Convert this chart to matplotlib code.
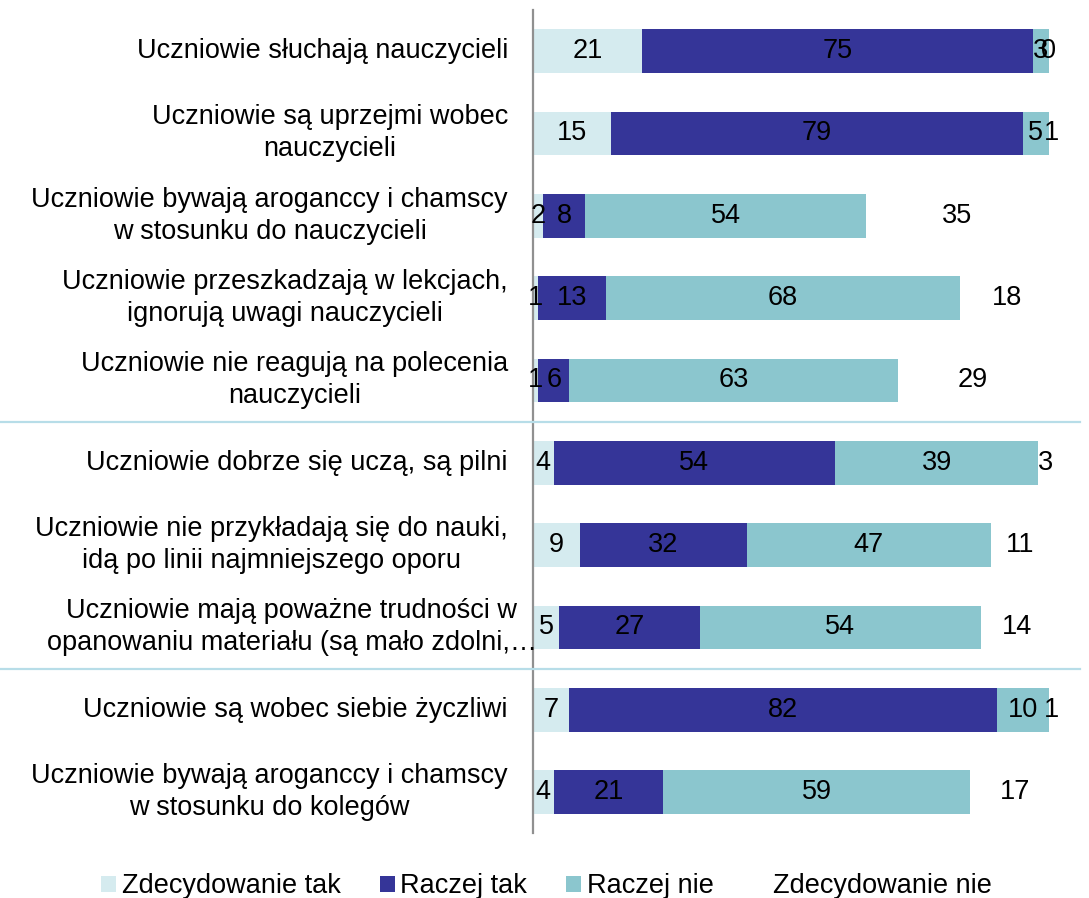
import numpy as np
import matplotlib.pyplot as plt
import matplotlib.transforms as mtransforms
from matplotlib.lines import Line2D

plt.rcParams['font.family'] = ['Liberation Sans', 'DejaVu Sans']

categories = [
    "Uczniowie słuchają nauczycieli",
    "Uczniowie są uprzejmi wobec\nnauczycieli",
    "Uczniowie bywają aroganccy i chamscy\nw stosunku do nauczycieli",
    "Uczniowie przeszkadzają w lekcjach,\nignorują uwagi nauczycieli",
    "Uczniowie nie reagują na polecenia\nnauczycieli",
    "Uczniowie dobrze się uczą, są pilni",
    "Uczniowie nie przykładają się do nauki,\nidą po linii najmniejszego oporu",
    "Uczniowie mają poważne trudności w\nopanowaniu materiału (są mało zdolni,…",
    "Uczniowie są wobec siebie życzliwi",
    "Uczniowie bywają aroganccy i chamscy\nw stosunku do kolegów",
]
series_names = ["Zdecydowanie tak", "Raczej tak", "Raczej nie", "Zdecydowanie nie"]
zdecydowanie_tak = [21, 15, 2, 1, 1, 4, 9, 5, 7, 4]
raczej_tak = [75, 79, 8, 13, 6, 54, 32, 27, 82, 21]
raczej_nie = [3, 5, 54, 68, 63, 39, 47, 54, 10, 59]
zdecydowanie_nie = [0, 1, 35, 18, 29, 3, 11, 14, 1, 17]
group_breaks = [4.5, 7.5]

colors = ["#d5ebef", "#353598", "#8bc6ce", "white"]
fs = 19.5

fig = plt.figure(figsize=(10.89, 8.98), dpi=100)
ax = fig.add_axes([0.4894, 0.072, 0.507, 0.917])

y = np.arange(len(categories))
left = np.zeros(len(categories))
handles = []
for name, vals, col in zip(series_names, [zdecydowanie_tak, raczej_tak, raczej_nie, zdecydowanie_nie], colors):
    vals = np.array(vals, dtype=float)
    b = ax.barh(y, vals, left=left, height=0.53, color=col, label=name)
    handles.append(b)
    for yi, l, v in zip(y, left, vals):
        ax.text(l + v / 2, yi, "%d" % v, ha='center', va='center', fontsize=fs, color='black')
    left = left + vals

ax.set_ylim(len(categories) - 0.5, -0.5)
ax.set_xlim(0, 106)
ax.set_yticks([])
ax.set_xticks([])
for s in ['top', 'right', 'bottom']:
    ax.spines[s].set_visible(False)
ax.spines['left'].set_color('#909090')
ax.spines['left'].set_linewidth(1.6)

# category labels, right-aligned left of the axis (last truncated one runs over the axis like in Excel)
lab_trans = mtransforms.blended_transform_factory(ax.transAxes, ax.transData)
for i, cat in enumerate(categories):
    shift = 0.29 if i == 7 else 0.0
    t = lab_trans + mtransforms.ScaledTranslation(-0.25 + shift, 0, fig.dpi_scale_trans)
    ax.text(0, i, cat, transform=t, ha='right', va='center', multialignment='center',
            fontsize=fs, linespacing=1.3, clip_on=False)

# separators between question groups
trans = mtransforms.blended_transform_factory(fig.transFigure, ax.transData)
for yb in group_breaks:
    fig.add_artist(Line2D([0, 0.992], [yb, yb], transform=trans, color='#b7dde8', linewidth=1.6))

fig.legend(handles=handles, labels=series_names, loc='center', bbox_to_anchor=(0.502, 0.013),
           ncol=4, frameon=False, fontsize=fs, handlelength=0.55, handleheight=0.55,
           handletextpad=0.2, columnspacing=1.45)

fig.savefig("out.png", dpi=100)
